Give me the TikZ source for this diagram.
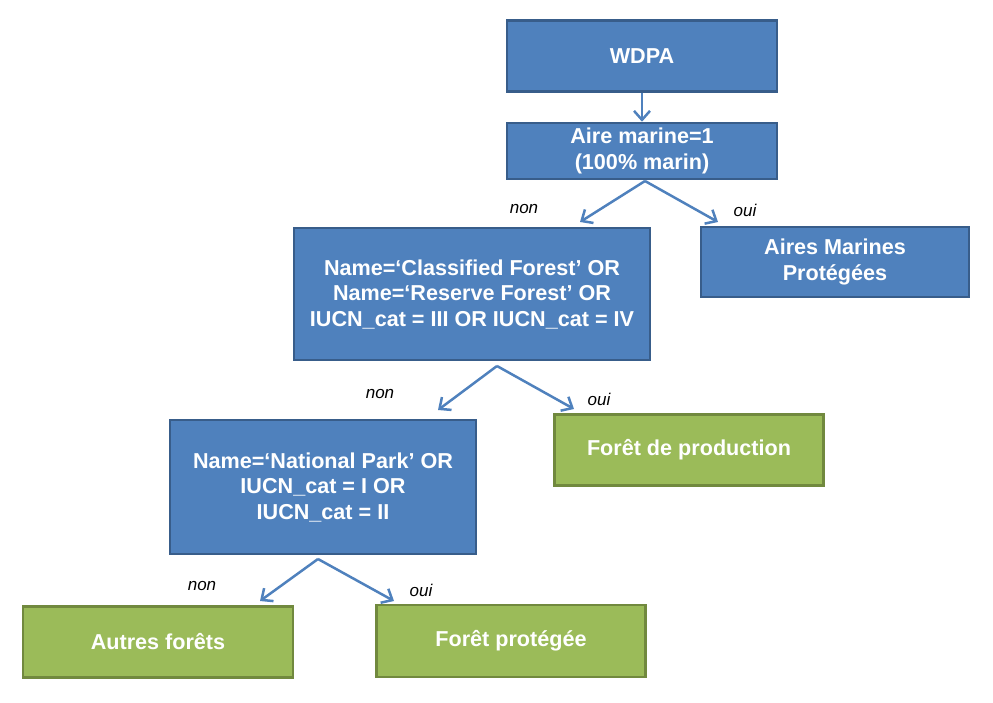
\documentclass[tikz,border=0pt]{standalone}
\usepackage{fontspec}
\setmainfont{Liberation Sans}
\usetikzlibrary{arrows.meta}
\definecolor{boxblue}{RGB}{79,129,189}
\definecolor{lineblue}{RGB}{56,93,138}
\definecolor{boxgreen}{RGB}{155,187,89}
\definecolor{linegreen}{RGB}{113,137,62}

\begin{document}
\begin{tikzpicture} [x=1pt, y=-1pt,
                bluebox/.style={rectangle, draw=lineblue, fill=boxblue, line width=2.5pt, inner sep=0pt,
                                text=white, align=center, font=\fontsize{21.6}{25.5}\selectfont\bfseries},
                greenbox/.style={bluebox, draw=linegreen, fill=boxgreen},
                edge_style/.style={draw=boxblue, line width=2.5pt, -{Straight Barb[length=9pt,width=16pt]}}]
                \tikzset{answer/.style={font=\fontsize{17}{20}\selectfont\itshape, inner sep=0pt}}
                \useasboundingbox (0,0) rectangle (993,703);
                % boxes
                \node [bluebox, minimum width=270, minimum height=71] (wdpa) at (642,56) {WDPA};
                \node [bluebox, minimum width=270, minimum height=56] (marine) at (642,151) {Aire marine=1\\(100\% marin)};
                \node [bluebox, minimum width=356, minimum height=132] (classified) at (472,294)
                      {Name=‘Classified Forest’ OR\\Name=‘Reserve Forest’ OR\\IUCN\_cat = III OR IUCN\_cat = IV};
                \node [bluebox, minimum width=268, minimum height=70] (amp) at (835,262) {Aires Marines\\Protégées};
                \node [bluebox, minimum width=306, minimum height=134] (park) at (323,487)
                      {Name=‘National Park’ OR\\IUCN\_cat = I OR\\IUCN\_cat = II};
                \node [greenbox, minimum width=269, minimum height=71] (production) at (689,450) {Forêt de production};
                \node [greenbox, minimum width=270, minimum height=71] (autres) at (158,642) {Autres forêts};
                \node [greenbox, minimum width=269, minimum height=72] (protegee) at (511,641) {Forêt protégée};
                % arrow ends
                \coordinate (s1) at (645,181);
                \coordinate (l1) at (580,222);
                \coordinate (r1) at (718,222);
                \coordinate (s2) at (497,366);
                \coordinate (l2) at (438,410);
                \coordinate (r2) at (574,409);
                \coordinate (s3) at (318,559);
                \coordinate (l3) at (260,601);
                \coordinate (r3) at (394,601);
                % arrows
                \draw [edge_style] (wdpa) -- (marine);
                \draw [edge_style] (s1) -- (l1);
                \draw [edge_style] (s1) -- (r1);
                \draw [edge_style] (s2) -- (l2);
                \draw [edge_style] (s2) -- (r2);
                \draw [edge_style] (s3) -- (l3);
                \draw [edge_style] (s3) -- (r3);
                % labels
                \node [answer] (non1) at (524,209) {non};
                \node [answer] (oui1) at (745,210) {oui};
                \node [answer] (non2) at (380,394) {non};
                \node [answer] (oui2) at (599,399) {oui};
                \node [answer] (non3) at (202,586) {non};
                \node [answer] (oui3) at (421,590) {oui};
            \end{tikzpicture}
\end{document}
